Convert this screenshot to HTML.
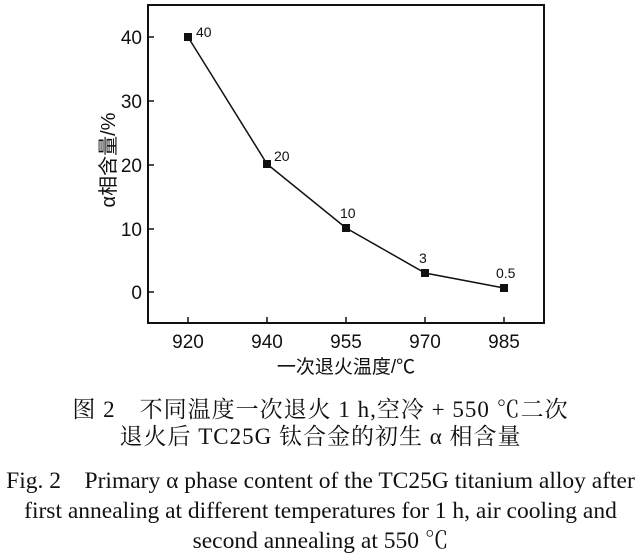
<!DOCTYPE html>
<html><head><meta charset="utf-8"><style>
body{margin:0;background:#fff;width:641px;height:559px;overflow:hidden}
.c{position:absolute;left:0;width:641px;text-align:center;font-family:"Liberation Serif","Noto Serif CJK SC",serif;color:#111;white-space:nowrap;line-height:28px;height:28px}
</style></head><body>
<svg width="641" height="380" style="position:absolute;left:0;top:0" font-family="Liberation Sans, Noto Sans CJK SC, sans-serif">
<rect x="148" y="5" width="396" height="318" fill="none" stroke="#111" stroke-width="2"/>
<g stroke="#111" stroke-width="1.5">
<line x1="148" y1="37" x2="154" y2="37"/><line x1="148" y1="101" x2="154" y2="101"/><line x1="148" y1="165" x2="154" y2="165"/><line x1="148" y1="229" x2="154" y2="229"/><line x1="148" y1="292" x2="154" y2="292"/>
<line x1="188" y1="323" x2="188" y2="317"/><line x1="267" y1="323" x2="267" y2="317"/><line x1="346" y1="323" x2="346" y2="317"/><line x1="425" y1="323" x2="425" y2="317"/><line x1="504" y1="323" x2="504" y2="317"/>
</g>
<g font-size="19" fill="#111" text-anchor="end">
<text x="142" y="44">40</text><text x="142" y="108">30</text><text x="142" y="172">20</text><text x="142" y="236">10</text><text x="142" y="299">0</text>
</g>
<g font-size="19" fill="#111" text-anchor="middle">
<text x="188" y="348">920</text><text x="267" y="348">940</text><text x="346" y="348">955</text><text x="425" y="348">970</text><text x="504" y="348">985</text>
<text x="346" y="373">一次退火温度/℃</text>
</g>
<text transform="translate(115,160) rotate(-90)" font-size="20" text-anchor="middle" fill="#111">α相含量/%</text>
<polyline points="188,37 267,164 346,228 425,273 504,288" fill="none" stroke="#111" stroke-width="1.5"/>
<g fill="#111">
<rect x="184" y="33" width="8" height="8"/><rect x="263" y="160" width="8" height="8"/><rect x="342" y="224" width="8" height="8"/><rect x="421" y="269" width="8" height="8"/><rect x="500" y="284" width="8" height="8"/>
</g>
<g font-size="14" fill="#111">
<text x="196" y="37">40</text><text x="274" y="161">20</text><text x="340" y="218">10</text><text x="419" y="263">3</text><text x="496" y="278">0.5</text>
</g>
</svg>
<div class="c" style="top:396px;font-size:23px;letter-spacing:1px">图 2　不同温度一次退火 1 h,空冷 + 550 ℃二次</div>
<div class="c" style="top:423px;font-size:23px;letter-spacing:1px">退火后 TC25G 钛合金的初生 α 相含量</div>
<div class="c" style="top:467px;font-size:23.5px">Fig. 2　Primary α phase content of the TC25G titanium alloy after</div>
<div class="c" style="top:497px;font-size:23.5px">first annealing at different temperatures for 1 h, air cooling and</div>
<div class="c" style="top:527px;font-size:23.5px">second annealing at 550 ℃</div>
</body></html>
